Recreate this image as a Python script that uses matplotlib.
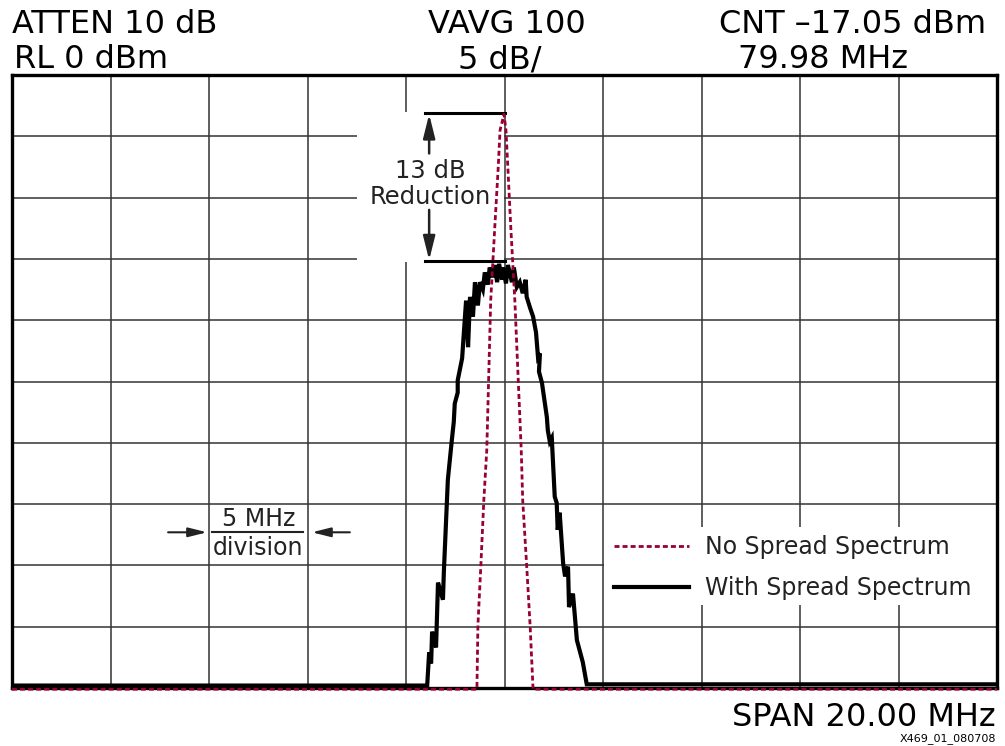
import matplotlib.pyplot as plt
import numpy as np
from matplotlib.patches import Rectangle

# frequency (MHz) and level (dBm)
freq_spread = [70.0, 78.43, 78.47, 78.51, 78.53, 78.61, 78.65, 78.75, 78.77, 78.85,
               78.93, 78.97, 78.99, 79.05, 79.05, 79.14, 79.16, 79.22, 79.26, 79.30,
               79.36, 79.40, 79.46, 79.50, 79.56, 79.60, 79.66, 79.70, 79.76, 79.80,
               79.85, 79.89, 79.95, 79.97, 80.03, 80.07, 80.15, 80.19, 80.25, 80.31,
               80.37, 80.43, 80.45, 80.52, 80.58, 80.64, 80.68, 80.72, 80.70, 80.76,
               80.86, 80.88, 80.92, 80.96, 81.02, 81.06, 81.08, 81.12, 81.19, 81.23,
               81.29, 81.31, 81.39, 81.47, 81.59, 81.67, 90.0]
level_spread = [-49.8, -49.8, -47.1, -48.0, -45.4, -46.7, -41.4, -42.8, -40.4, -33.0,
                -29.8, -28.3, -26.8, -25.9, -24.9, -23.1, -21.9, -18.4, -22.2, -18.1,
                -19.7, -16.9, -18.8, -16.9, -17.5, -16.1, -17.1, -15.7, -16.5, -15.5,
                -16.9, -15.4, -16.7, -15.7, -17.0, -15.5, -16.9, -15.7, -17.3, -16.9,
                -17.8, -16.7, -18.1, -19.0, -19.7, -21.0, -23.0, -22.7, -24.2, -25.1,
                -27.9, -29.0, -29.9, -29.6, -34.4, -34.9, -37.1, -35.7, -39.8, -40.9,
                -40.1, -43.4, -42.3, -46.1, -47.9, -49.7, -49.7]

freq_nospread = [70.0, 79.44, 79.46, 79.52, 79.58, 79.64, 79.72, 79.80, 79.87, 79.91,
                 79.99, 80.03, 80.07, 80.13, 80.21, 80.34, 80.37, 80.45, 80.52, 80.58, 90.0]
level_nospread = [-50.1, -50.1, -44.9, -40.0, -34.7, -30.6, -18.4, -12.6, -7.7, -4.5,
                  -3.2, -4.5, -7.7, -12.6, -18.4, -30.6, -34.7, -40.0, -44.9, -50.1, -50.1]

peak_nospread = -3.1
peak_spread = -15.2

red = '#990033'
plt.rcParams['font.family'] = ['DejaVu Sans']

fig = plt.figure(figsize=(10.05, 7.46), dpi=100)
ax = fig.add_axes([12/1005, 58/746, 985/1005, 613/746])
ax.set_xlim(70, 90)
ax.set_ylim(-50, 0)
ax.set_xticks(np.arange(70, 91, 2))
ax.set_yticks(np.arange(-50, 1, 5))
ax.tick_params(length=0, labelbottom=False, labelleft=False)
ax.grid(True, color='#333333', lw=1.1, zorder=0)
ax.set_axisbelow(True)
for s in ax.spines.values():
    s.set_linewidth(2.4)
    s.set_zorder(3)

# white backgrounds behind the reduction annotation and the legend
ax.add_patch(Rectangle((77.0, peak_spread - 0.05), 2.99, peak_nospread - peak_spread + 0.1,
                       facecolor='white', edgecolor='none', zorder=1))
ax.add_patch(Rectangle((0.601, 0.135), 0.399, 0.128, transform=ax.transAxes,
                       facecolor='white', edgecolor='none', zorder=1))

l_with, = ax.plot(freq_spread, level_spread, color='black', lw=3, zorder=4,
                  label='With Spread Spectrum', solid_joinstyle='miter')
l_no, = ax.plot(freq_nospread, level_nospread, color=red, lw=2, ls=(0, (1.8, 1.1)),
                zorder=5, clip_on=False, label='No Spread Spectrum')

# 13 dB reduction marker
ax.plot([78.38, 80.01], [peak_nospread, peak_nospread], color='black', lw=2.2, zorder=4)
ax.plot([78.38, 80.01], [peak_spread, peak_spread], color='black', lw=2.2, zorder=4)
ax.annotate('', xy=(78.47, peak_nospread - 0.1), xytext=(78.47, -6.4),
            arrowprops=dict(arrowstyle='-|>,head_length=0.8,head_width=0.2', color='#222222',
                            lw=1.8, mutation_scale=18, shrinkA=0, shrinkB=0), zorder=4)
ax.annotate('', xy=(78.47, peak_spread + 0.1), xytext=(78.47, -11.0),
            arrowprops=dict(arrowstyle='-|>,head_length=0.8,head_width=0.2', color='#222222',
                            lw=1.8, mutation_scale=18, shrinkA=0, shrinkB=0), zorder=4)
ax.text(78.49, -8.9, '13 dB\nReduction', ha='center', va='center', fontsize=17.5,
        color='#222222', linespacing=1.1, zorder=4)

# 5 MHz / division marker
ax.text(75.0, -36.2, '5 MHz', ha='center', va='center', fontsize=17, color='#222222')
ax.text(75.0, -38.6, 'division', ha='center', va='center', fontsize=17, color='#222222')
ax.plot([74.06, 75.91], [-37.3, -37.3], color='#222222', lw=1.5)
ax.annotate('', xy=(73.96, -37.3), xytext=(73.17, -37.3),
            arrowprops=dict(arrowstyle='-|>,head_length=0.8,head_width=0.2', color='#222222',
                            lw=1.5, mutation_scale=14, shrinkA=0, shrinkB=0))
ax.annotate('', xy=(76.09, -37.3), xytext=(76.86, -37.3),
            arrowprops=dict(arrowstyle='-|>,head_length=0.8,head_width=0.2', color='#222222',
                            lw=1.5, mutation_scale=14, shrinkA=0, shrinkB=0))

leg = ax.legend([l_no, l_with], ['No Spread Spectrum', 'With Spread Spectrum'],
                loc='center left', bbox_to_anchor=(0.611, 0.196), fontsize=17,
                handlelength=3.2, handletextpad=0.65, borderaxespad=0, borderpad=0,
                frameon=False, labelspacing=0.72)
leg.set_zorder(4)
for t in leg.get_texts():
    t.set_color('#222222')

# analyser header and footer
fig.text(12/1005, 1 - 33/746, 'ATTEN 10 dB', fontsize=23, ha='left', va='baseline')
fig.text(507/1005, 1 - 33/746, 'VAVG 100', fontsize=23, ha='center', va='baseline')
fig.text(986/1005, 1 - 33/746, 'CNT \u201317.05 dBm', fontsize=23, ha='right', va='baseline')
fig.text(14/1005, 1 - 68/746, 'RL 0 dBm', fontsize=23, ha='left', va='baseline')
fig.text(500/1005, 1 - 68/746, '5 dB/', fontsize=23, ha='center', va='baseline')
fig.text(823/1005, 1 - 68/746, '79.98 MHz', fontsize=23, ha='center', va='baseline')
fig.text(996/1005, 1 - 726/746, 'SPAN 20.00 MHz', fontsize=23, ha='right', va='baseline')
fig.text(996/1005, 1 - 741/746, 'X469_01_080708', fontsize=8, ha='right', va='baseline')

fig.savefig('out.png', dpi=100)
